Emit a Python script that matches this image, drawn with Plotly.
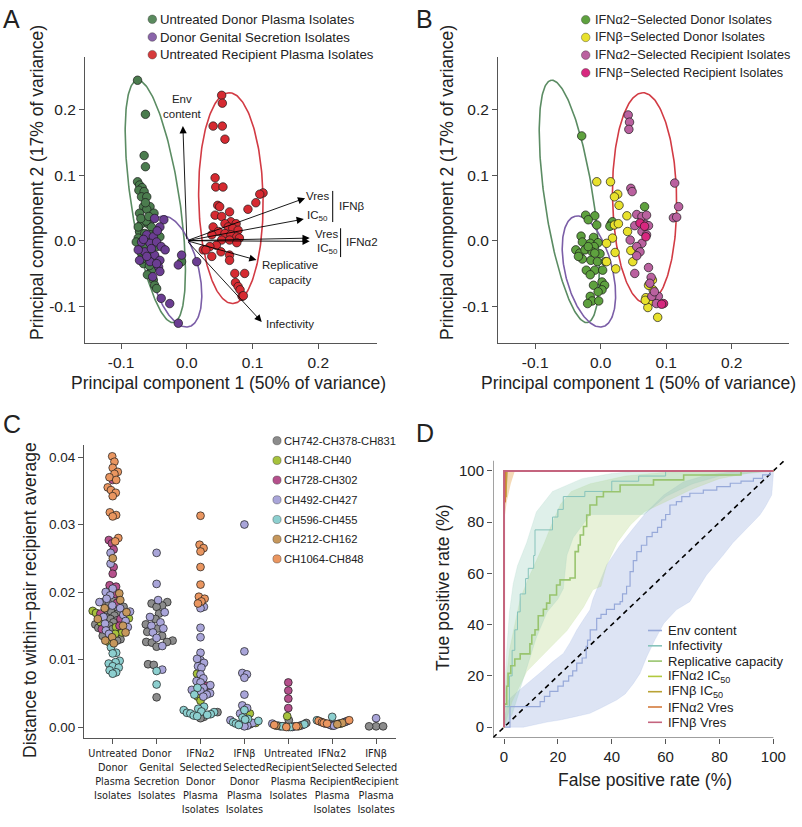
import numpy as np
import plotly.graph_objects as go

W, H = 802, 827
def fx(p): return p / W
def fy(p): return 1 - p / H

FONT = "Liberation Sans, Arial, sans-serif"
NARROW = "Liberation Sans Narrow, Arial Narrow, DejaVu Sans Condensed, Liberation Sans, sans-serif"
INK = "#222222"
AXIS = "#555555"

# ---------------- Panel A : PCA scores ----------------
donor_plasma_pc1 = [-0.075, -0.063, -0.065, -0.063, -0.075, -0.072, -0.068, -0.073, -0.065, -0.069, -0.061, -0.066,
                    -0.056, -0.061, -0.050, -0.072, -0.069, -0.059, -0.054, -0.072, -0.064, -0.056, -0.074, -0.066,
                    -0.059, -0.051, -0.071, -0.061, -0.054, -0.046, -0.069, -0.059, -0.049, -0.066, -0.054, -0.051,
                    -0.049, -0.046, -0.008, -0.074, -0.041, -0.077, -0.062, -0.070, -0.058, -0.064, -0.057, -0.068,
                    -0.063, -0.060]
donor_plasma_pc2 = [0.245, 0.193, 0.130, 0.113, 0.090, 0.085, 0.081, 0.077, 0.075, 0.067, 0.067, 0.052,
                    0.052, 0.048, 0.042, 0.042, 0.026, 0.026, 0.021, 0.014, 0.011, 0.009, 0.004, -0.002,
                    0.001, -0.004, -0.009, -0.014, -0.017, -0.009, -0.019, -0.027, -0.024, -0.035, -0.045, -0.060,
                    -0.068, -0.073, -0.032, 0.021, 0.006, -0.002, 0.030, 0.034, 0.037, -0.006, -0.038, -0.028,
                    0.058, -0.052]
genital_pc1 = [-0.049, -0.035, -0.041, -0.061, -0.051, -0.069, -0.056, -0.046, -0.039, -0.033, -0.064, -0.049,
               -0.041, -0.056, -0.072, -0.043, -0.041, -0.039, -0.026, -0.013, -0.013, -0.008, 0.015, -0.074,
               -0.054, -0.046, -0.061, -0.045, -0.066, -0.052]
genital_pc2 = [0.034, 0.032, 0.021, 0.009, 0.006, -0.002, -0.004, -0.002, -0.009, -0.014, -0.017, -0.022,
               -0.030, -0.032, -0.030, -0.040, -0.047, -0.088, -0.096, -0.126, -0.037, -0.022, -0.032, -0.014,
               -0.012, -0.035, -0.024, 0.015, 0.002, -0.055]
recipient_plasma_pc1 = [0.053, 0.054, 0.040, 0.054, 0.058, 0.043, 0.044, 0.055, 0.116, 0.111, 0.105, 0.093,
                        0.047, 0.050, 0.065, 0.043, 0.053, 0.067, 0.075, 0.058, 0.040, 0.063, 0.070, 0.078,
                        0.048, 0.058, 0.067, 0.076, 0.080, 0.038, 0.053, 0.065, 0.076, 0.045, 0.025, 0.035,
                        0.052, 0.038, 0.065, 0.065, 0.073, 0.088, 0.074, 0.078, 0.081, 0.084, 0.086, 0.029]
recipient_plasma_pc2 = [0.222, 0.210, 0.175, 0.175, 0.155, 0.096, 0.082, 0.082, 0.073, 0.071, 0.058, 0.048,
                        0.054, 0.052, 0.044, 0.039, 0.037, 0.029, 0.026, 0.026, 0.021, 0.021, 0.019, 0.016,
                        0.014, 0.011, 0.009, 0.006, 0.004, 0.009, 0.001, 0.001, -0.003, -0.007, -0.014, -0.009,
                        -0.017, -0.024, -0.022, -0.030, -0.050, -0.050, -0.064, -0.070, -0.075, -0.085, -0.084, -0.014]

# loading arrows (PC1, PC2)
loading_names = ["Env content", "IFNβ Vres", "IFNβ IC50", "IFNα2 Vres", "IFNα2 IC50", "Replicative capacity", "Infectivity"]
loading_pc1 = [-0.006, 0.180, 0.178, 0.187, 0.187, 0.106, 0.114]
loading_pc2 = [0.175, 0.065, 0.033, 0.004, -0.001, -0.0295, -0.124]

# 95% ellipses: centre x, centre y, semi-major, semi-minor, angle (deg)
ellipse_donor = [-0.048, 0.060, 0.187, 0.037, 98.5]
ellipse_genital = [-0.018, -0.047, 0.087, 0.036, 104.0]
ellipse_recipient = [0.067, 0.065, 0.161, 0.049, 91.0]

# ---------------- Panel B : IFN-selected isolates ----------------
ifna_donor_pc1 = [-0.029, -0.023, -0.009, -0.019, -0.006, 0.016, 0.018, 0.014, 0.067, -0.030, -0.011, -0.028,
                  -0.016, -0.004, -0.010, -0.038, -0.032, -0.024, -0.013, -0.001, -0.028, -0.015, -0.005, 0.007,
                  -0.022, -0.009, 0.003, -0.016, 0.002, -0.011, 0.006, 0.002, -0.004, -0.016, -0.013, -0.003,
                  -0.020, -0.034, -0.019, -0.009]
ifna_donor_pc2 = [0.160, 0.039, 0.038, 0.032, 0.024, 0.026, 0.029, 0.022, 0.052, 0.007, 0.005, -0.002,
                  -0.004, -0.003, -0.009, -0.014, -0.019, -0.014, -0.017, -0.020, -0.028, -0.030, -0.032, -0.032,
                  -0.045, -0.045, -0.045, -0.052, -0.063, -0.068, -0.068, -0.075, -0.078, -0.085, -0.092, -0.092,
                  -0.096, -0.024, -0.009, -0.019]
ifnb_donor_pc1 = [-0.006, 0.015, 0.026, 0.021, 0.028, 0.040, 0.021, 0.027, 0.041, 0.018, 0.009, 0.046,
                  0.022, 0.009, 0.049, 0.023, 0.079, 0.080, 0.073, 0.069, 0.079, 0.072, 0.087, 0.068]
ifnb_donor_pc2 = [0.090, 0.090, 0.071, 0.067, 0.054, 0.038, 0.024, 0.026, 0.014, 0.004, -0.004, -0.015,
                  -0.018, -0.032, -0.032, -0.043, -0.060, -0.075, -0.068, -0.087, -0.092, -0.102, -0.117, -0.091]
ifna_recip_pc1 = [0.042, 0.044, 0.043, 0.046, 0.048, 0.113, 0.119, 0.111, 0.116, 0.055, 0.063, 0.070,
                  0.052, 0.068, 0.073, 0.063, 0.070, 0.045, 0.063, 0.055, 0.060, 0.055, 0.052, 0.073,
                  0.077, 0.075, 0.088, 0.085, 0.078, 0.082]
ifna_recip_pc2 = [0.192, 0.181, 0.170, 0.080, 0.075, 0.088, 0.052, 0.035, 0.036, 0.040, 0.037, 0.039,
                  0.023, 0.025, 0.023, 0.014, 0.009, 0.001, -0.004, -0.009, -0.017, -0.023, -0.050, -0.041,
                  -0.056, -0.065, -0.085, -0.096, -0.085, -0.078]
ifnb_recip_pc1 = [0.060, 0.067, 0.069, 0.096, 0.093]
ifnb_recip_pc2 = [0.027, 0.022, 0.006, -0.096, -0.097]

# ---------------- Panel C : distance to recipient average ----------------
pair_names = ["CH742-CH378-CH831", "CH148-CH40", "CH728-CH302", "CH492-CH427",
              "CH596-CH455", "CH212-CH162", "CH1064-CH848"]
pair_colors = ["#8c8c8c", "#a6c23c", "#b5508c", "#a9a5d9", "#8ccfcf", "#c6975c", "#ea9660"]
category_labels = ["Untreated<br>Donor<br>Plasma<br>Isolates",
                   "Donor<br>Genital<br>Secretion<br>Isolates",
                   "IFNα2<br>Selected<br>Donor<br>Plasma<br>Isolates",
                   "IFNβ<br>Selected<br>Donor<br>Plasma<br>Isolates",
                   "Untreated<br>Recipient<br>Plasma<br>Isolates",
                   "IFNα2<br>Selected<br>Recipient<br>Plasma<br>Isolates",
                   "IFNβ<br>Selected<br>Recipient<br>Plasma<br>Isolates"]

untreated_donor = {
    "CH742-CH378-CH831": [0.0190, 0.0185, 0.0182, 0.0178, 0.0175, 0.0172, 0.0170, 0.0168, 0.0165, 0.0162, 0.0160,
                          0.0158, 0.0155, 0.0152, 0.0150, 0.0147, 0.0145, 0.0140, 0.0135, 0.0130, 0.0128],
    "CH148-CH40": [0.0172, 0.0169, 0.0161, 0.0155, 0.0148, 0.0140, 0.0138, 0.0126],
    "CH728-CH302": [0.0366, 0.0277, 0.0272, 0.0263, 0.0237, 0.0227, 0.0210, 0.0208, 0.0197, 0.0184, 0.0168,
                    0.0160, 0.0150, 0.0145],
    "CH492-CH427": [0.0258, 0.0242, 0.0205, 0.0200, 0.0195, 0.0190, 0.0185, 0.0180, 0.0176, 0.0171, 0.0166,
                    0.0163, 0.0157, 0.0153, 0.0148, 0.0143, 0.0138],
    "CH596-CH455": [0.0118, 0.0110, 0.0109, 0.0098, 0.0096, 0.0094, 0.0090, 0.0088, 0.0084, 0.0081, 0.0079],
    "CH212-CH162": [0.0250, 0.0198, 0.0188, 0.0176, 0.0170, 0.0160, 0.0150, 0.0140, 0.0133, 0.0128, 0.0124],
    "CH1064-CH848": [0.0401, 0.0393, 0.0384, 0.0378, 0.0375, 0.0370, 0.0366, 0.0355, 0.0351, 0.0347, 0.0342,
                     0.0318, 0.0314, 0.0312, 0.0280, 0.0275],
}
genital_secretion = {
    "CH742-CH378-CH831": [0.0185, 0.0183, 0.0180, 0.0178, 0.0168, 0.0160, 0.0152, 0.0146, 0.0141, 0.0135, 0.0128,
                          0.0126, 0.0126, 0.0125, 0.0119, 0.0093, 0.0092, 0.0044],
    "CH492-CH427": [0.0258, 0.0212, 0.0188, 0.0170, 0.0163, 0.0155, 0.0150, 0.0146, 0.0140, 0.0132, 0.0120, 0.0085],
    "CH596-CH455": [0.0083, 0.0063],
}
ifna_selected_donor = {
    "CH1064-CH848": [0.0313, 0.0270, 0.0265, 0.0260, 0.0237, 0.0211, 0.0193, 0.0190, 0.0186, 0.0183],
    "CH492-CH427": [0.0178, 0.0176, 0.0147, 0.0133, 0.0110, 0.0099, 0.0101, 0.0095, 0.0090, 0.0088, 0.0078,
                    0.0072, 0.0068, 0.0066, 0.0062, 0.0058, 0.0055, 0.0053, 0.0050, 0.0048, 0.0045],
    "CH148-CH40": [0.0079, 0.0045, 0.0039],
    "CH728-CH302": [0.0061],
    "CH596-CH455": [0.0058, 0.0048, 0.0030, 0.0027, 0.0025, 0.0023, 0.0022, 0.0021, 0.0020, 0.0019, 0.0018,
                    0.0017, 0.0016],
    "CH742-CH378-CH831": [0.0022, 0.0015, 0.0013],
}
ifnb_selected_donor = {
    "CH492-CH427": [0.0300, 0.0112, 0.0080, 0.0078, 0.0073, 0.0048, 0.0032, 0.0028, 0.0020, 0.0010, 0.0006,
                    0.0003, 0.0002, 0.0001],
    "CH596-CH455": [0.0025, 0.0014, 0.0012, 0.0011, 0.0009, 0.0007, 0.0005, 0.0003],
    "CH148-CH40": [0.0020, 0.0006],
    "CH742-CH378-CH831": [0.0004],
}
untreated_recipient = {
    "CH728-CH302": [0.0066, 0.0054, 0.0042, 0.0028],
    "CH148-CH40": [0.0016],
    "CH742-CH378-CH831": [0.0010, 0.0006, 0.0003, 0.0001, 0.0001],
    "CH596-CH455": [0.0004, 0.0002, 0.0001, 0.0000, 0.0000],
    "CH1064-CH848": [0.0003, 0.0001, 0.0000],
    "CH492-CH427": [0.0005, 0.0002, 0.0001, 0.0000],
    "CH212-CH162": [0.0002, 0.0001],
}
ifna_selected_recipient = {
    "CH596-CH455": [0.0015, 0.0010, 0.0008],
    "CH1064-CH848": [0.0010, 0.0009, 0.0007, 0.0006, 0.0005],
    "CH742-CH378-CH831": [0.0008, 0.0005, 0.0004, 0.0002],
    "CH492-CH427": [0.0009, 0.0007, 0.0005, 0.0004, 0.0003, 0.0002],
    "CH212-CH162": [0.0006, 0.0004],
    "CH148-CH40": [0.0005],
}
ifnb_selected_recipient = {
    "CH742-CH378-CH831": [0.0001, 0.0001, 0.0001],
    "CH492-CH427": [0.0013],
}
category_data = [untreated_donor, genital_secretion, ifna_selected_donor, ifnb_selected_donor,
                 untreated_recipient, ifna_selected_recipient, ifnb_selected_recipient]

# ---------------- Panel D : ROC curves (FPR %, TPR %) ----------------
env_fpr = [0, 2.2, 13.4, 15, 17, 20, 22, 24, 25.5, 27, 29, 30.5, 31, 32, 34.4, 36, 38, 41, 43.1, 44, 45.5, 46.8,
           48, 49.3, 51, 53, 55, 57, 58.5, 60, 61.6, 64, 66, 69, 74, 79, 84, 88, 92.6, 96, 98.8, 100]
env_tpr = [0, 8, 10, 12, 14, 16, 18, 20, 22, 25, 27, 31.5, 34, 38, 42.5, 44, 46, 48, 49, 52, 55, 60.7,
           65, 68.5, 71, 74.4, 76, 78, 80.9, 83, 86.7, 88, 90, 91.3, 92.5, 93.9, 95.2, 96, 97.1, 98.5, 100, 100]
env_hi_fpr = [0, 0.5, 1.6, 4, 7.2, 11, 14.6, 18, 22, 24.5, 27, 29.5, 31.9, 33, 35, 38.1, 40.5, 43.1, 48, 53,
              59.3, 66.7, 75.2, 87.6, 100]
env_hi_tpr = [0, 5, 10.6, 13, 15.8, 19, 22.3, 25.5, 28.8, 33, 37.9, 42, 45.8, 50, 55, 63.3, 67, 71.1, 77.6,
              84.1, 90.6, 95.8, 98.4, 100, 100]
env_lo_fpr = [0, 7.2, 12, 16, 20.8, 26, 31.9, 36, 41.8, 45, 48, 50.5, 53, 56, 59.3, 64, 69, 72, 75.2, 78,
              81.4, 85, 88.8, 92, 95, 97, 99.4, 100, 100]
env_lo_tpr = [0, 0, 1, 2, 2.8, 4, 5.4, 7.5, 10.6, 13, 17, 21, 27.5, 34, 40.5, 45.8, 49, 54, 59.4, 63,
              67.2, 72, 76.3, 79.5, 82.8, 86, 90.6, 98.4, 100]

inf_fpr = [0, 0, 2, 2, 3, 4, 5, 6, 8, 9, 11, 11.5, 17.7, 18, 20, 22, 30, 40, 50, 60, 100]
inf_tpr = [0, 8, 8, 20, 30, 38, 45, 52, 58, 62, 67, 77, 77, 82, 85, 90, 92, 96, 98, 100, 100]
inf_hi_fpr = [0, 0.3, 1, 2, 3.4, 5, 8.4, 12, 18, 29, 40, 50, 100]
inf_hi_tpr = [0, 15, 30, 45, 56, 63, 72, 84, 92, 97, 99, 100, 100]
inf_lo_fpr = [0, 3, 6, 9, 12, 16, 20, 22, 23.3, 25.7, 32, 52, 60, 70, 80, 100]
inf_lo_tpr = [0, 5, 15, 25, 35, 45, 50, 54, 67, 74, 83, 83, 90, 95, 98, 100]

rep_fpr = [0, 0, 1, 1.5, 2.5, 4, 6, 9.6, 10.3, 11.5, 12.7, 14.6, 15.8, 17, 19.5, 20.8, 24.5, 26.4, 27.6, 28.3,
           29.5, 30.7, 31.9, 34.4, 36.9, 43.1, 55.5, 66.7, 88, 100]
rep_tpr = [0, 9, 16, 21, 24, 26.6, 28.6, 32.5, 36, 38, 43.5, 46, 48.4, 51.6, 55.5, 57.5, 58.2, 68.5, 71.1, 75,
           78.3, 82.8, 86.7, 89.9, 91.9, 94.5, 96.5, 98.4, 100, 100]
rep_hi_fpr = [0, 0, 1, 2, 4, 6, 9, 12, 15, 18, 21, 25, 32, 45, 60, 75, 100]
rep_hi_tpr = [0, 8, 20, 30, 40, 50, 58, 65, 72, 80, 87, 92, 95, 98, 99.5, 100, 100]
rep_lo_fpr = [0, 3, 8.4, 13.4, 18, 23.3, 29.5, 33, 36, 38, 42, 47, 52, 60, 70, 80, 90, 100]
rep_lo_tpr = [0, 10, 21.7, 27, 32, 37.6, 46.8, 53.6, 55, 63, 72, 79, 84, 88, 93, 97, 99, 100]

ifna_ic50_fpr = [0, 0, 100]
ifna_ic50_tpr = [0, 100, 100]
ifnb_ic50_fpr = [0, 0, 0.8, 0.8, 100]
ifnb_ic50_tpr = [0, 90, 90, 100, 100]
ifnb_ic50_band_fpr = [0, 0, 1.5, 1.2, 0.6, 0]
ifnb_ic50_band_tpr = [86, 100, 100, 95, 88, 86]
ifna_vres_fpr = [0, 0, 0.5, 0.5, 100]
ifna_vres_tpr = [0, 88, 88, 100, 100]
ifna_vres_band_fpr = [0, 0, 4, 2.5, 1, 0]
ifna_vres_band_tpr = [80, 100, 100, 95, 88, 80]
ifnb_vres_fpr = [0, 0, 100]
ifnb_vres_tpr = [0, 100, 100]
diag = [-4.1, 104]

roc_names = ["Env content", "Infectivity", "Replicative capacity", "IFNα2 IC<sub>50</sub>",
             "IFNβ IC<sub>50</sub>", "IFNα2 Vres", "IFNβ Vres"]
roc_colors = ["#97a9d9", "#86c3bb", "#98c46e", "#b2c93e", "#b9a234", "#d47a3c", "#c4647e"]

# =====================================================================
fig = go.Figure()

def ellipse_xy(p, n=240):
    cx, cy, a, b, ang = p
    t = np.linspace(0, 2 * np.pi, n)
    th = np.deg2rad(ang)
    x = cx + a * np.cos(t) * np.cos(th) - b * np.sin(t) * np.sin(th)
    y = cy + a * np.cos(t) * np.sin(th) + b * np.sin(t) * np.cos(th)
    return x, y

ell_colors = ["#5b8c63", "#7b5ea7", "#d23b44"]
ells = [ellipse_donor, ellipse_genital, ellipse_recipient]

def pts(x, y, color, xa, ya, size=8.5):
    fig.add_trace(go.Scatter(x=x, y=y, mode="markers", xaxis=xa, yaxis=ya, showlegend=False,
                             marker=dict(size=size, color=color, line=dict(color="#1a1a1a", width=0.7))))

# Panel A
for p, c in zip(ells, ell_colors):
    ex, ey = ellipse_xy(p)
    fig.add_trace(go.Scatter(x=ex, y=ey, mode="lines", line=dict(color=c, width=1.6),
                             xaxis="x", yaxis="y", showlegend=False, hoverinfo="skip"))
A_colors = ["#4b7c4e", "#6b3d92", "#d62a31"]
pts(donor_plasma_pc1, donor_plasma_pc2, A_colors[0], "x", "y")
pts(genital_pc1, genital_pc2, A_colors[1], "x", "y")
pts(recipient_plasma_pc1, recipient_plasma_pc2, A_colors[2], "x", "y")

# Panel B
for p, c in zip(ells, ell_colors):
    ex, ey = ellipse_xy(p)
    fig.add_trace(go.Scatter(x=ex, y=ey, mode="lines", line=dict(color=c, width=1.6),
                             xaxis="x2", yaxis="y2", showlegend=False, hoverinfo="skip"))
B_colors = ["#5ea13e", "#e8e12c", "#ba619f", "#d7287f"]
pts(ifna_donor_pc1, ifna_donor_pc2, B_colors[0], "x2", "y2")
pts(ifnb_donor_pc1, ifnb_donor_pc2, B_colors[1], "x2", "y2")
pts(ifna_recip_pc1, ifna_recip_pc2, B_colors[2], "x2", "y2")
pts(ifnb_recip_pc1, ifnb_recip_pc2, B_colors[3], "x2", "y2")

# Panel C: beeswarm layout
PX_PER_Y = 6750.0
PX_PER_CAT = 43.9
D_SW = 7.0
swarm_halfwidth_px = [20, 16, 17, 14, 18, 17, 12]

def swarm(ys):
    ys = np.asarray(ys, float) * PX_PER_Y
    order = np.argsort(ys, kind="stable")
    placed = []
    xs = np.zeros(len(ys))
    for i in order:
        yp = ys[i]
        cands = [0.0]
        for (qx, qy) in placed:
            dy = yp - qy
            if abs(dy) < D_SW:
                dx = np.sqrt(D_SW ** 2 - dy ** 2)
                cands += [qx + dx, qx - dx]
        cands = sorted(cands, key=lambda c: (round(abs(c), 6), -c))
        for c in cands:
            if all((c - qx) ** 2 + (yp - qy) ** 2 >= D_SW ** 2 - 1e-6 for (qx, qy) in placed):
                xs[i] = c
                break
        placed.append((xs[i], yp))
    return xs

group_x = {g: [] for g in pair_names}
group_y = {g: [] for g in pair_names}
for ci, cd in enumerate(category_data):
    allv, allg = [], []
    for g, vals in cd.items():
        allv += vals
        allg += [g] * len(vals)
    offs = swarm(allv)
    m = np.max(np.abs(offs))
    if m > swarm_halfwidth_px[ci]:
        offs = offs * swarm_halfwidth_px[ci] / m
    for v, g, o in zip(allv, allg, offs):
        group_x[g].append(ci + o / PX_PER_CAT)
        group_y[g].append(v)
for g, c in zip(pair_names, pair_colors):
    pts(group_x[g], group_y[g], c, "x3", "y3", size=7.8)

# Panel D
def band(fpr_hi, tpr_hi, fpr_lo, tpr_lo, rgba):
    fig.add_trace(go.Scatter(x=list(fpr_hi) + list(fpr_lo)[::-1], y=list(tpr_hi) + list(tpr_lo)[::-1],
                             mode="lines", fill="toself", fillcolor=rgba, line=dict(width=0.5, color=rgba),
                             xaxis="x4", yaxis="y4", showlegend=False, hoverinfo="skip"))

band(env_hi_fpr, env_hi_tpr, env_lo_fpr, env_lo_tpr, "rgba(150,172,222,0.32)")
band(rep_hi_fpr, rep_hi_tpr, rep_lo_fpr, rep_lo_tpr, "rgba(178,212,128,0.30)")
band(inf_hi_fpr, inf_hi_tpr, inf_lo_fpr, inf_lo_tpr, "rgba(140,200,180,0.28)")
fig.add_trace(go.Scatter(x=ifna_vres_band_fpr, y=ifna_vres_band_tpr, mode="lines", fill="toself",
                         fillcolor="rgba(236,180,110,0.5)", line=dict(width=0),
                         xaxis="x4", yaxis="y4", showlegend=False, hoverinfo="skip"))
fig.add_trace(go.Scatter(x=ifnb_ic50_band_fpr, y=ifnb_ic50_band_tpr, mode="lines", fill="toself",
                         fillcolor="rgba(190,130,50,0.6)", line=dict(width=0),
                         xaxis="x4", yaxis="y4", showlegend=False, hoverinfo="skip"))

fig.add_trace(go.Scatter(x=diag, y=diag, mode="lines", line=dict(color="black", width=1.6, dash="5px,4px"),
                         xaxis="x4", yaxis="y4", showlegend=False, hoverinfo="skip"))

roc_lines = [(env_fpr, env_tpr), (inf_fpr, inf_tpr), (rep_fpr, rep_tpr), (ifna_ic50_fpr, ifna_ic50_tpr),
             (ifnb_ic50_fpr, ifnb_ic50_tpr), (ifna_vres_fpr, ifna_vres_tpr), (ifnb_vres_fpr, ifnb_vres_tpr)]
roc_widths = [1.2, 1.0, 1.6, 1.2, 1.2, 1.2, 2.0]
for (fx_, ty_), c, nm, w in zip(roc_lines, roc_colors, roc_names, roc_widths):
    fig.add_trace(go.Scatter(x=fx_, y=ty_, mode="lines", line=dict(color=c, width=w, shape="hv"),
                             name=nm, xaxis="x4", yaxis="y4", showlegend=False))

# ---------------- layout ----------------
def ax(domain, rng, tickvals, ticktext, anchor, size, font=FONT, showline=True):
    return dict(domain=domain, range=rng, tickvals=tickvals, ticktext=ticktext, anchor=anchor,
                showline=showline, linecolor=AXIS, linewidth=1.1, ticks="outside", ticklen=5,
                tickcolor=AXIS, tickwidth=1.1, showgrid=False, zeroline=False, tickangle=0,
                automargin=False, tickfont=dict(family=font, size=size, color=INK))

pc_ticks = [-0.1, 0.0, 0.1, 0.2]
pc_text = ["-0.1", "0.0", "0.1", "0.2"]
roc_ticks = [0, 20, 40, 60, 80, 100]
roc_text = ["0", "20", "40", "60", "80", "100"]
c_ticks = [0, 0.01, 0.02, 0.03, 0.04]
c_text = ["0.00", "0.01", "0.02", "0.03", "0.04"]

layout = dict(
    width=W, height=H, autosize=False, margin=dict(l=0, r=0, t=0, b=0, pad=0, autoexpand=False),
    paper_bgcolor="white", plot_bgcolor="white", showlegend=False,
    font=dict(family=FONT, color=INK),
    xaxis=ax([fx(85), fx(377)], [-0.155, 0.2894], pc_ticks, pc_text, "y", 15.5),
    yaxis=ax([fy(343), fy(57)], [-0.1562, 0.2805], pc_ticks, pc_text, "x", 15.5),
    xaxis2=ax([fx(498), fx(789)], [-0.1568, 0.2875], pc_ticks, pc_text, "y2", 15.5),
    yaxis2=ax([fy(343), fy(57)], [-0.1562, 0.2805], pc_ticks, pc_text, "x2", 15.5),
    xaxis3=ax([fx(84), fx(396)], [-0.654, 6.453], list(range(7)), category_labels, "y3", 10.8, NARROW),
    yaxis3=ax([fy(738), fy(445)], [-0.00163, 0.04178], c_ticks, c_text, "x3", 13.5),
    xaxis4=ax([fx(493), fx(784)], [-4.1, 103.96], roc_ticks, roc_text, "y4", 15, showline=False),
    yaxis4=ax([fy(737.7), fy(453)], [-4.1, 107], roc_ticks, roc_text, "x4", 15, showline=False),
)
fig.update_layout(**layout)

shapes = []
annots = []

# D axis lines
shapes.append(dict(type="line", xref="x4", yref="y4", x0=-4.1, x1=100, y0=-4.1, y1=-4.1,
                   line=dict(color=AXIS, width=1.1)))
shapes.append(dict(type="line", xref="x4", yref="y4", x0=-4.1, x1=-4.1, y0=-4.1, y1=104,
                   line=dict(color=AXIS, width=1.1)))

def txt(x, y, s, size, xanchor="center", yanchor="middle", angle=0, ref=("paper", "paper"), font=FONT,
        align="center"):
    annots.append(dict(x=x, y=y, xref=ref[0], yref=ref[1], text=s, showarrow=False, xanchor=xanchor,
                       yanchor=yanchor, textangle=angle, align=align, borderpad=0,
                       font=dict(family=font, size=size, color=INK)))

# panel letters
txt(fx(11), fy(19), "A", 25)
txt(fx(424), fy(19), "B", 25)
txt(fx(12), fy(424), "C", 25)
txt(fx(425), fy(433), "D", 25)

# axis titles
TS = 17.5
txt(fx(229), fy(383), "Principal component 1 (50% of variance)", TS)
txt(fx(37), fy(183), "Principal component 2 (17% of variance)", TS, angle=-90)
txt(fx(638), fy(383), "Principal component 1 (50% of variance)", TS)
txt(fx(447), fy(183), "Principal component 2 (17% of variance)", TS, angle=-90)
txt(fx(30), fy(600), "Distance to within−pair recipient average", TS, angle=-90)
txt(fx(645), fy(780), "False positive rate (%)", TS)
txt(fx(443), fy(587), "True positive rate (%)", TS, angle=-90)

# legends
def circle_key(xp, yp, color, r=4.3):
    shapes.append(dict(type="circle", xref="paper", yref="paper", xsizemode="pixel", ysizemode="pixel",
                       xanchor=fx(xp), yanchor=fy(yp), x0=-r, x1=r, y0=-r, y1=r,
                       fillcolor=color, line=dict(color="#333333", width=0.4)))

A_legend = ["Untreated Donor Plasma Isolates", "Donor Genital Secretion Isolates",
            "Untreated Recipient Plasma Isolates"]
A_legend_colors = ["#5a8a5e", "#8a64aa", "#d63a3c"]
for i, (s, c) in enumerate(zip(A_legend, A_legend_colors)):
    yp = 19.3 + 17.7 * i
    circle_key(152.3, yp, c)
    txt(fx(159), fy(yp), s, 13.2, xanchor="left")

B_legend = ["IFNα2−Selected Donor Isolates", "IFNβ−Selected Donor Isolates",
            "IFNα2−Selected Recipient Isolates", "IFNβ−Selected Recipient Isolates"]
for i, (s, c) in enumerate(zip(B_legend, B_colors)):
    yp = 19.7 + 17.7 * i
    circle_key(585.7, yp, c)
    txt(fx(594), fy(yp), s, 12.7, xanchor="left")

for i, (s, c) in enumerate(zip(pair_names, pair_colors)):
    yp = 440.7 + 19.7 * i
    circle_key(277, yp, c, r=4.1)
    txt(fx(283), fy(yp), s, 11.2, xanchor="left")

for i, (s, c) in enumerate(zip(roc_names, roc_colors)):
    yp = 630.5 + 15.3 * i
    shapes.append(dict(type="line", xref="paper", yref="paper", x0=fx(648), x1=fx(662), y0=fy(yp), y1=fy(yp),
                       line=dict(color=c, width=1.6)))
    txt(fx(667), fy(yp), s, 13, xanchor="left")

# PCA loading arrows
for x1, y1 in zip(loading_pc1, loading_pc2):
    annots.append(dict(x=x1, y=y1, ax=0, ay=0, xref="x", yref="y", axref="x", ayref="y", text="",
                       showarrow=True, arrowhead=2, arrowsize=1.6, arrowwidth=0.9, arrowcolor="black",
                       standoff=0, startstandoff=0))

A_REF = ("x", "y")
txt(-0.006, 0.205, "Env<br>content", 11.5, ref=A_REF)
txt(0.180, 0.068, "Vres", 11.5, xanchor="left", ref=A_REF)
txt(0.182, 0.037, "IC<sub>50</sub>", 11.5, xanchor="left", ref=A_REF)
txt(0.2298, 0.053, "IFNβ", 11.5, xanchor="left", ref=A_REF)
txt(0.193, 0.010, "Vres", 11.5, xanchor="left", ref=A_REF)
txt(0.197, -0.012, "IC<sub>50</sub>", 11.5, xanchor="left", ref=A_REF)
txt(0.2405, -0.002, "IFNα2", 11.5, xanchor="left", ref=A_REF)
txt(0.157, -0.049, "Replicative<br>capacity", 11.5, ref=A_REF)
txt(0.119, -0.127, "Infectivity", 11.5, xanchor="left", ref=A_REF)
shapes.append(dict(type="line", xref="x", yref="y", x0=0.222, x1=0.222, y0=0.076, y1=0.0285,
                   line=dict(color="black", width=1)))
shapes.append(dict(type="line", xref="x", yref="y", x0=0.234, x1=0.234, y0=0.019, y1=-0.025,
                   line=dict(color="black", width=1)))

fig.update_layout(shapes=shapes, annotations=annots)
fig.write_html("out.html", config={"responsive": False, "displayModeBar": False},
               post_script="document.body.style.margin='0';document.body.style.padding='0';"
                           "document.body.style.overflow='hidden';")
